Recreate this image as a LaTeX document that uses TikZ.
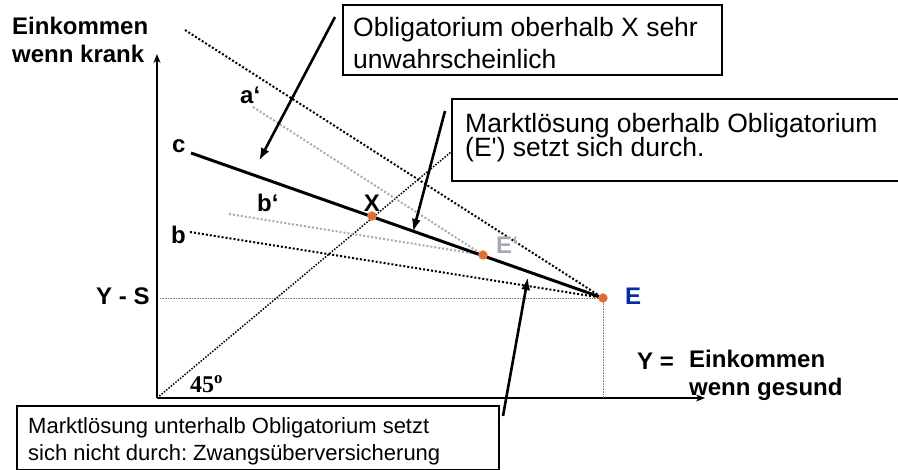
\documentclass[tikz,border=0pt]{standalone}
\usepackage{fontspec}
\setmainfont{Liberation Sans}
\newfontfamily\nomapsans{Liberation Sans}
\newfontfamily\timesfont{Liberation Serif}
\usetikzlibrary{arrows.meta}
\frenchspacing
\definecolor{dotorange}{RGB}{226,108,48}
\definecolor{greydots}{RGB}{160,172,190}
\definecolor{eblue}{RGB}{0,45,165}
\definecolor{egrey}{RGB}{165,170,180}
\newcommand{\tightlines}{\fontsize{26.5}{24}\selectfont\lineskiplimit -20pt\relax}
\tikzset{
  lbl/.style={font=\bfseries\fontsize{24}{28}\selectfont, inner sep=0pt},
  bigtxt/.style={font=\fontsize{26.5}{32}\selectfont, inner sep=0pt, align=left},
  boxframe/.style={draw=black, line width=2.2pt, fill=white, inner sep=0pt, anchor=north west},
  axisline/.style={line width=1.8pt, -{Stealth[length=9pt,width=7pt]}},
  blackdots/.style={line width=2pt, dash pattern=on 2pt off 2pt},
  thindots/.style={line width=1.5pt, dash pattern=on 1.5pt off 1.5pt},
  greyline/.style={greydots, line width=2pt, dash pattern=on 2pt off 2pt},
  guide/.style={gray, line width=0.8pt, dash pattern=on 0.8pt off 0.8pt},
  pointer/.style={line width=2.6pt, -{Latex[length=13pt,width=9pt]}},
  dotpt/.style={circle, fill=dotorange, draw=dotorange!70!white, line width=0.5pt, minimum size=9pt, inner sep=0pt},
}
\begin{document}
\begin{tikzpicture}[x=1pt,y=-1pt]
\clip (0,0) rectangle (898,470);
\fill[white] (0,0) rectangle (898,470);
% coordinates
\coordinate (O) at (157,398);
\coordinate (ytop) at (157,54);
\coordinate (xend) at (705,398);
\coordinate (Epos) at (603,298);
\coordinate (Eppos) at (483,255);
\coordinate (Xpos) at (372,216);
\coordinate (ysL) at (160,298);
\coordinate (Ebot) at (603,398);
\coordinate (aS) at (185,30);
\coordinate (apS) at (253,107);
\coordinate (cS) at (191,153);
\coordinate (bpS) at (229,214);
\coordinate (bS) at (190,232);
\coordinate (d45) at (451,152);
\coordinate (p1s) at (335,17);
\coordinate (p1e) at (259,161);
\coordinate (p2s) at (445,111);
\coordinate (p2e) at (413,232);
\coordinate (p3s) at (503,416);
\coordinate (p3e) at (528,277);
% axes and guides
\draw[axisline] (O) -- (ytop);
\draw[axisline] (O) -- (xend);
\draw[guide] (ysL) -- (Epos);
\draw[guide] (Epos) -- (Ebot);
% lines
\draw[thindots] (O) -- (d45);
\draw[greyline] (apS) -- (Eppos);
\draw[greyline] (bpS) -- (Eppos);
\draw[blackdots] (aS) -- (Epos);
\draw[blackdots] (bS) -- (Epos);
\draw[line width=3pt] (cS) -- (Epos);
% pointers
\draw[pointer] (p1s) -- (p1e);
\draw[pointer] (p2s) -- (p2e);
\draw[pointer] (p3s) -- (p3e);
% points
\node[dotpt] (X) at (Xpos) {};
\node[dotpt] (Ep) at (Eppos) {};
\node[dotpt] (E) at (Epos) {};
% labels
\node[lbl, anchor=north west, align=left] (ylab) at (12,17) {Einkommen\\wenn krank};
\node[lbl, anchor=north west, align=left] (xlab) at (689,350) {Einkommen\\wenn gesund};
\node[lbl, anchor=base west] (yeq) at (637,370) {Y =};
\node[lbl, anchor=base west] (ys) at (96,305) {Y - S};
\node[lbl, anchor=base west] (la) at (240,104) {a‘};
\node[lbl, anchor=base west] (lc) at (172,153) {c};
\node[lbl, anchor=base west] (lbp) at (257,212) {b‘};
\node[lbl, anchor=base west] (lb) at (171,244) {b};
\node[lbl, anchor=base] (lX) at (372,212) {X};
\node[lbl, anchor=base west, text=egrey] (lEp) at (496,254) {E‘};
\node[lbl, anchor=base west, text=eblue] (lE) at (625,305) {E};
\node[inner sep=0pt, anchor=base west, font=\timesfont\bfseries\fontsize{24}{28}\selectfont] (ang) at (190,393) {45\textsuperscript{o}};
% boxes
\node[boxframe, minimum width=379pt, minimum height=70pt] (box1) at (342,4) {};
\node[bigtxt, anchor=north west] (t1) at (353,17) {Obligatorium oberhalb X sehr\\unwahrscheinlich};
\node[boxframe, minimum width=460pt, minimum height=82pt] (box2) at (451,98) {};
\node[bigtxt, anchor=north west, font=\tightlines] (t2) at (465,113) {Marktlösung oberhalb Obligatorium\\(E{\nomapsans '}) setzt sich durch.};
\node[boxframe, minimum width=482pt, minimum height=64pt] (box3) at (16,405) {};
\node[bigtxt, anchor=north west, font=\fontsize{22}{27}\selectfont] (t3) at (28,417) {Marktlösung unterhalb Obligatorium setzt\\sich nicht durch: Zwangsüberversicherung};
\end{tikzpicture}
\end{document}
